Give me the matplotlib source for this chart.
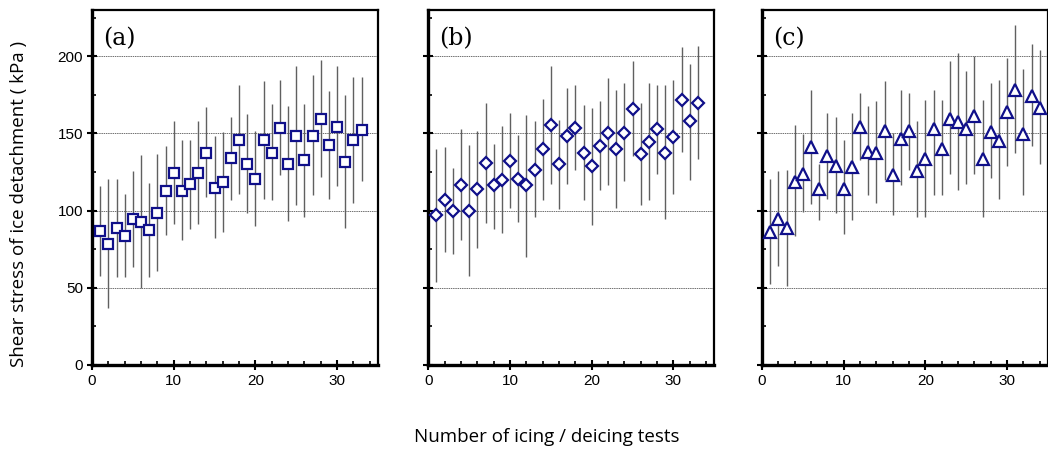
import numpy as np
from matplotlib import pyplot as plt
from matplotlib.ticker import MultipleLocator

# panel (a): squares
a_mean = [86.7, 78.5, 88.5, 83.5, 94.5, 92.5, 87.6, 98.8, 112.8, 124.3, 112.8,
          117.0, 124.3, 137.5, 114.8, 118.7, 133.8, 145.6, 130.5, 120.6, 145.6,
          137.5, 153.8, 130.5, 148.2, 132.7, 148.2, 159.7, 142.7, 154.3, 131.4,
          145.6, 152.5]
a_hi = [116.0, 120.8, 120.8, 110.7, 125.6, 135.9, 118.2, 136.6, 142.0, 157.9, 145.6,
        146.0, 157.9, 167.0, 148.2, 150.8, 160.7, 181.2, 162.5, 151.7, 183.8,
        168.9, 184.8, 167.6, 194.0, 169.3, 187.7, 197.4, 177.6, 193.7, 174.8,
        186.6, 186.6]
a_lo = [57.8, 37.1, 56.7, 56.7, 63.6, 49.6, 56.7, 61.0, 84.1, 91.5, 80.9,
        87.8, 91.5, 108.9, 82.0, 86.3, 106.8, 110.7, 98.6, 90.0, 107.8,
        106.8, 123.0, 93.6, 103.6, 96.0, 110.0, 121.9, 107.8, 116.0, 88.9,
        105.0, 118.9]

# panel (b): diamonds
b_mean = [97.1, 107.0, 99.9, 116.7, 99.9, 113.8, 130.7, 116.3, 119.7, 132.4, 120.4,
          116.3, 126.6, 139.8, 155.7, 130.1, 148.2, 153.8, 137.4, 128.8, 142.0,
          150.4, 139.8, 150.4, 165.7, 136.8, 144.7, 153.2, 137.6, 147.8, 171.5,
          157.9, 169.8]
b_hi = [139.8, 141.3, 127.9, 152.7, 142.4, 151.5, 169.8, 143.4, 154.9, 163.4, 148.9,
        161.8, 157.9, 172.6, 193.7, 158.6, 179.6, 181.2, 168.7, 166.8, 170.9,
        186.0, 178.0, 182.7, 196.8, 169.8, 182.7, 181.2, 181.2, 184.8, 206.0,
        195.2, 207.0]
b_lo = [53.9, 72.9, 71.8, 80.9, 57.8, 76.1, 92.1, 87.8, 85.2, 102.0, 92.8,
        70.1, 96.0, 106.8, 117.5, 101.0, 117.5, 126.2, 106.8, 91.0, 113.3,
        116.5, 102.0, 119.0, 135.3, 103.6, 106.8, 124.0, 94.8, 110.7, 138.0,
        119.7, 133.3]

# panel (c): triangles
c_mean = [86.3, 94.5, 88.5, 118.7, 123.9, 141.1, 114.3, 135.5, 129.0, 114.3, 128.2,
          154.0, 137.9, 137.4, 151.7, 123.1, 146.5, 151.7, 125.9, 133.7, 153.2,
          140.2, 159.2, 157.5, 152.9, 161.4, 133.7, 151.2, 145.4, 164.0, 178.2,
          149.9, 174.4, 166.8]
c_hi = [120.8, 125.6, 126.6, 155.3, 149.9, 178.0, 130.0, 163.5, 160.7, 146.0, 163.5,
        176.5, 167.6, 170.9, 183.8, 150.4, 178.0, 176.5, 157.9, 171.9, 178.0,
        171.9, 196.8, 202.4, 190.5, 200.2, 171.9, 182.7, 184.8, 198.9, 220.0,
        191.6, 207.8, 203.9]
c_lo = [52.8, 64.1, 51.1, 83.5, 99.2, 104.2, 93.9, 107.8, 98.8, 84.6, 93.9,
        132.7, 110.0, 105.0, 119.7, 97.1, 116.5, 126.2, 96.0, 96.0, 110.0,
        110.0, 123.6, 113.3, 117.0, 123.6, 96.0, 121.2, 107.4, 129.0, 137.6,
        110.0, 142.0, 130.1]

panels = [
    ("(a)", a_mean, a_lo, a_hi, "s", 7.5),
    ("(b)", b_mean, b_lo, b_hi, "D", 6.5),
    ("(c)", c_mean, c_lo, c_hi, "^", 8.5),
]

navy = "#10108a"
W, H = 1048, 455
fig = plt.figure(figsize=(W / 100, H / 100), dpi=100)

lefts = [92, 428.3, 762]
for k, (tag, mean, lo, hi, mk, ms) in enumerate(panels):
    ax = fig.add_axes([lefts[k] / W, (H - 365) / H, 286 / W, 355 / H])
    x = np.arange(1, len(mean) + 1)
    mean = np.array(mean)
    yerr = [mean - np.array(lo), np.array(hi) - mean]
    ax.errorbar(x, mean, yerr=yerr, fmt="none", ecolor="#606060", elinewidth=1.0,
                capsize=0, zorder=2)
    ax.plot(x, mean, linestyle="none", marker=mk, markersize=ms, mfc="white",
            mec=navy, mew=1.6, zorder=3)

    ax.set_xlim(0, 35)
    ax.set_ylim(0, 230)
    ax.xaxis.set_major_locator(MultipleLocator(10))
    ax.xaxis.set_minor_locator(MultipleLocator(2))
    ax.yaxis.set_major_locator(MultipleLocator(50))
    ax.yaxis.set_minor_locator(MultipleLocator(25))
    for yv in [50, 100, 150, 200]:
        ax.axhline(yv, color="#707070", lw=0.7, ls=(0, (1.5, 0.8)), zorder=1)

    ax.tick_params(which="major", direction="inout", length=7, width=1.5,
                   labelsize=11, pad=3)
    ax.tick_params(which="minor", direction="in", length=3, width=1.2)
    for lab in ax.get_xticklabels() + ax.get_yticklabels():
        lab.set_fontfamily("Liberation Sans")
    if k > 0:
        ax.set_yticklabels([])

    ax.spines["left"].set_linewidth(2.4)
    ax.spines["bottom"].set_linewidth(2.4)
    ax.spines["top"].set_linewidth(1.6)
    ax.spines["right"].set_linewidth(1.6)

    ax.text(0.038, 0.918, tag, transform=ax.transAxes, ha="left", va="center",
            fontsize=17, fontfamily="DejaVu Serif")

fig.text(19 / W, (H - 204) / H, "Shear stress of ice detachment ( kPa )",
         rotation=90, ha="center", va="center", fontsize=13.5, fontfamily="Open Sans")
fig.text(547 / W, (H - 437) / H, "Number of icing / deicing tests",
         ha="center", va="center", fontsize=13.5, fontfamily="Open Sans")

fig.savefig("out.png", dpi=100)
